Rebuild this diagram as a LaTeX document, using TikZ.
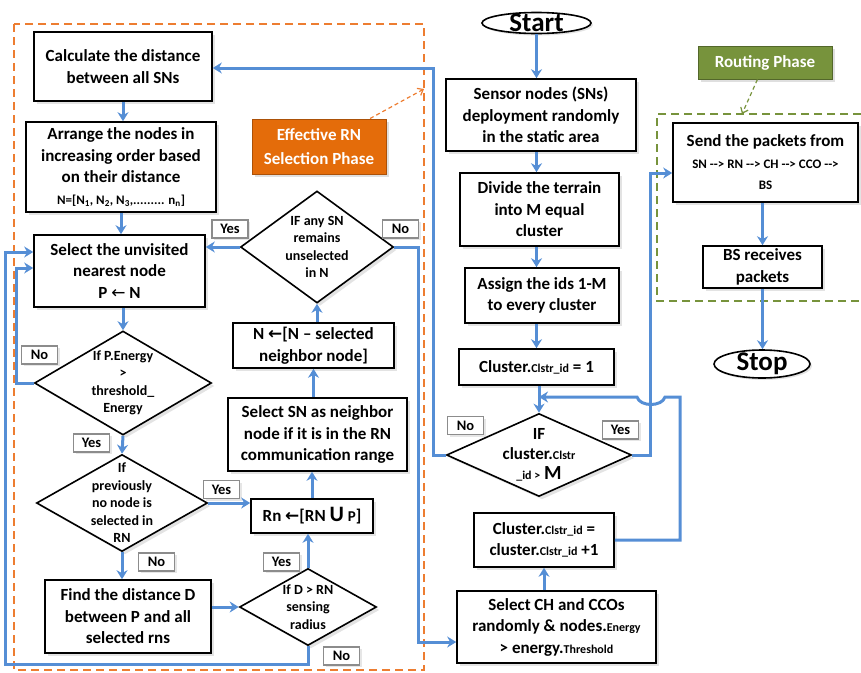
\documentclass[tikz,border=0pt]{standalone}
\usepackage{fontspec}
\setmainfont{Carlito}
\newfontfamily\arrowfont{DejaVu Sans}
\usetikzlibrary{shapes.geometric,arrows.meta,shadows}
\definecolor{flowblue}{RGB}{85,142,213}
\definecolor{rnorange}{RGB}{228,108,10}
\definecolor{frameorange}{RGB}{237,125,49}
\definecolor{framegreen}{RGB}{119,147,60}

\begin{document}
\begin{tikzpicture}[x=1pt,y=-1pt,
box/.style={shape=rectangle,draw=black,fill=white,line width=1.6pt,align=center,inner sep=0pt,font=\bfseries\fontsize{17}{21.5}\selectfont,drop shadow={opacity=0.22,shadow xshift=3pt,shadow yshift=-3pt}},
dia/.style={shape=diamond,draw=black,fill=white,line width=1.6pt,inner sep=0pt,drop shadow={opacity=0.22,shadow xshift=3pt,shadow yshift=-3pt}},
term/.style={shape=ellipse,draw=black,fill=white,line width=1.6pt,inner sep=0pt,drop shadow={opacity=0.22,shadow xshift=2pt,shadow yshift=-2pt}},
dtext/.style={align=center,inner sep=0pt,font=\bfseries\fontsize{14}{17.5}\selectfont},
yn/.style={shape=rectangle,draw=black!45,fill=white,line width=1.4pt,inner sep=0pt,minimum width=36pt,minimum height=18pt,font=\bfseries\fontsize{14.5}{16}\selectfont,drop shadow={opacity=0.2,shadow xshift=2pt,shadow yshift=-2pt}},
phase/.style={shape=rectangle,line width=1pt,align=center,inner sep=0pt,text=white,font=\bfseries\fontsize{17}{24}\selectfont,drop shadow={opacity=0.25,shadow xshift=3pt,shadow yshift=-3pt}},
flow/.style={draw=flowblue,line width=3pt,-{Stealth[length=9pt,width=11pt]}},
note/.style={line width=1.2pt,dash pattern=on 4pt off 3pt,-{Straight Barb[length=5pt,width=8pt]}},
frame/.style={line width=1.6pt,dash pattern=on 8pt off 5pt}]
\useasboundingbox (0,0) rectangle (861,672);
\draw[frame,draw=frameorange] (14,24) rectangle (424,670);
\draw[frame,draw=framegreen] (861,114) -- (657,114) -- (657,301) -- (861,301);
\node[box,minimum width=178pt,minimum height=69pt] (0) at (123,66.5) {Calculate the distance\\between all SNs};
\node[box,minimum width=190pt,minimum height=90pt] (1) at (121,167) {Arrange the nodes in\\increasing order based\\on their distance\\{\fontsize{13}{16}\selectfont N=[N\textsubscript{1}, N\textsubscript{2}, N\textsubscript{3},......... n\textsubscript{n}]}};
\node[box,minimum width=171pt,minimum height=72pt] (2) at (119.5,271) {Select the unvisited\\nearest node\\P {\arrowfont\mdseries ←} N};
\node[dia,minimum width=177pt,minimum height=104pt,label={[dtext]center:If P.Energy\\>\\threshold\_\\Energy}] (3) at (123,383) {};
\node[dia,minimum width=171pt,minimum height=97pt,label={[dtext]center:If\\previously\\no node is\\selected in\\RN}] (4) at (122,503) {};
\node[box,minimum width=166pt,minimum height=73pt] (5) at (128,616.5) {Find the distance D\\between P and all\\selected rns};
\node[dia,minimum width=137pt,minimum height=77pt,label={[dtext]center:If D > RN\\sensing\\radius}] (6) at (308,607) {};
\node[box,minimum width=122pt,minimum height=34pt] (7) at (312,516) {Rn {\arrowfont ←}[RN {\fontsize{22}{22}\selectfont U} {\fontsize{15}{15}\selectfont P}]};
\node[box,minimum width=179pt,minimum height=73pt] (8) at (317.5,434.5) {Select SN as neighbor\\node if it is in the RN\\communication range};
\node[box,minimum width=161pt,minimum height=45pt] (9) at (313.5,345.5) {N {\arrowfont ←}[N – selected\\neighbor node]};
\node[dia,minimum width=153pt,minimum height=112pt,label={[dtext]center:IF any SN\\remains\\unselected\\in N}] (10) at (317,247) {};
\node[phase,fill=rnorange,draw=rnorange!75!black,minimum width=134pt,minimum height=55pt] (11) at (319,146.5) {Effective RN\\Selection Phase};
\node[term,minimum width=109pt,minimum height=21pt,label={[dtext,font=\bfseries\fontsize{27}{27}\selectfont]center:Start}] (12) at (536.5,23) {};
\node[box,minimum width=190pt,minimum height=72pt] (13) at (541,115) {Sensor nodes (SNs)\\deployment randomly\\in the static area};
\node[box,minimum width=159pt,minimum height=73pt] (14) at (539.5,209.5) {Divide the terrain\\into M equal\\cluster};
\node[box,minimum width=154pt,minimum height=55pt] (15) at (542,295.5) {Assign the ids 1-M\\to every cluster};
\node[box,minimum width=155pt,minimum height=36pt] (16) at (536.5,367) {Cluster.{\fontsize{12}{12}\selectfont Clstr\_id} = 1};
\node[dia,minimum width=185pt,minimum height=83pt,label={[dtext,font=\bfseries\fontsize{17}{20}\selectfont]center:IF\\cluster.{\fontsize{12}{12}\selectfont Clstr}\\{\fontsize{12}{12}\selectfont \_id >} {\fontsize{20}{20}\selectfont M}}] (17) at (539,455) {};
\node[box,minimum width=140pt,minimum height=54pt] (18) at (544,540) {Cluster.{\fontsize{12}{12}\selectfont Clstr\_id} =\\cluster.{\fontsize{12}{12}\selectfont Clstr\_id} +1};
\node[box,minimum width=199pt,minimum height=72pt] (19) at (556.5,627) {Select CH and CCOs\\randomly \& nodes.{\fontsize{12}{12}\selectfont Energy}\\> energy.{\fontsize{12}{12}\selectfont Threshold}};
\node[phase,fill=framegreen,draw=framegreen!70!black,minimum width=134pt,minimum height=33pt] (20) at (765,62.5) {Routing Phase};
\node[box,minimum width=185pt,minimum height=79pt] (21) at (765.5,162.5) {Send the packets from\\{\fontsize{13}{16}\selectfont SN -{}-> RN -{}-> CH -{}-> CCO -{}->}\\{\fontsize{13}{16}\selectfont BS}};
\node[box,minimum width=119pt,minimum height=42pt] (22) at (762.5,267) {BS receives\\packets};
\node[term,minimum width=96pt,minimum height=28pt,label={[dtext,font=\bfseries\fontsize{27}{27}\selectfont]center:Stop}] (23) at (762,364) {};
\node[yn] (24) at (230,229) {Yes};
\node[yn] (25) at (400.5,229) {No};
\node[yn] (26) at (39.5,355) {No};
\node[yn] (27) at (91.5,443) {Yes};
\node[yn] (28) at (221.5,489.5) {Yes};
\node[yn] (29) at (156.5,562) {No};
\node[yn] (30) at (281.5,562) {Yes};
\node[yn] (31) at (341.5,656) {No};
\node[yn] (32) at (465.5,425.5) {No};
\node[yn] (33) at (620.5,430) {Yes};
\coordinate (c0) at (5,664);
\coordinate (c1) at (680,397);
\coordinate (c2) at (742,114);
\coordinate (c3) at (424,89);
\coordinate (c4) at (418,642);

\path [flow] (0.south) -- (0.south |- 1.north);
\path [flow] (1.south) -- (1.south |- 2.north);
\path [flow] (3.north |- 2.south) -- (3.north);
\path [flow] (3.south) -- (4.north);
\path [flow] (4.south) -- (4.south |- 5.north);
\path [flow] (4.east) -- (4.east -| 7.west);
\path [flow] (5.east |- 6.west) -- (6.west);
\path [flow] (6.north) -- (6.north |- 7.south);
\path [flow] (7.north) -- (7.north |- 8.south);
\path [flow] (9.south |- 8.north) -- (9.south);
\path [flow] (10.south |- 9.north) -- (10.south);
\path [flow] (10.west) -- (10.west -| 2.east);
\path [flow] (10.east) -| (c4) -- (c4 -| 19.west);
\path [flow] (3.west) -- ++(-17,0) |- ([yshift=3pt]2.west);
\path [flow] (6.south) |- (c0) |- ([yshift=19pt]2.west);
\path [flow] (12.south) -- (12.south |- 13.north);
\path [flow] (13.south -| 12.south) -- (12.south |- 14.north);
\path [flow] (14.south -| 12.south) -- (12.south |- 15.north);
\path [flow] (15.south -| 12.south) -- (12.south |- 16.north);
\path [flow] (17.north |- 16.south) -- (17.north);
\path [flow] (17.west) -- ++(-12,0) |- ([yshift=-1.5pt]0.east);
\path [flow] (17.east) -- ++(18,0) |- ([yshift=-10.5pt]21.west);
\path [flow] (19.north -| 18.south) -- (18.south);
\path [flow] (18.east) -| (c1) -- (665,397) .. controls (662,407) and (640,407) .. (637,397) -- (c1 -| 17.north);
\path [flow] (22.north |- 21.south) -- (22.north);
\path [flow] (22.south) -- (22.south |- 23.north);
\path [note,draw=framegreen] (20) -- (c2);
\path [note,draw=frameorange] (11) -- (c3);
\end{tikzpicture}
\end{document}
